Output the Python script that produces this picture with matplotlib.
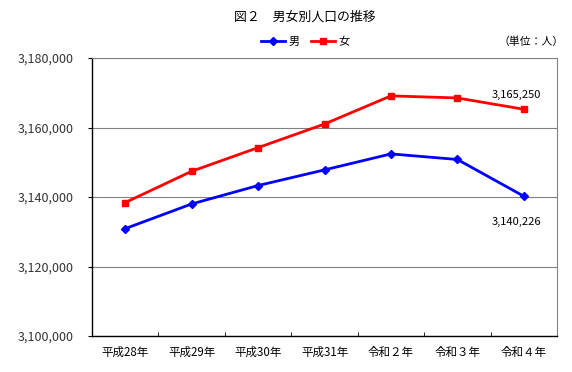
import matplotlib
matplotlib.use("Agg")
import matplotlib.pyplot as plt
from matplotlib.ticker import FuncFormatter, FixedLocator

plt.rcParams['font.family'] = ['Noto Sans CJK JP', 'DejaVu Sans']

categories = ["平成28年", "平成29年", "平成30年", "平成31年", "令和２年", "令和３年", "令和４年"]
male = [3130900, 3138000, 3143300, 3147800, 3152400, 3150800, 3140226]
female = [3138400, 3147400, 3154200, 3161000, 3169100, 3168500, 3165250]
yticks = [3100000, 3120000, 3140000, 3160000, 3180000]

fig = plt.figure(figsize=(5.72, 3.72), dpi=100)
ax = fig.add_axes([92/572, 1-336/372, (557-92)/572, (336-58)/372])

x = list(range(len(categories)))
ax.plot(x, male, color="#0000FF", lw=2, marker="D", ms=4.5, label="男", zorder=3)
ax.plot(x, female, color="#FF0000", lw=2, marker="s", ms=4.5, label="女", zorder=3)

ax.set_xlim(-0.5, len(categories)-0.5)
ax.set_ylim(3100000, 3180000)
ax.yaxis.set_major_locator(FixedLocator(yticks))
ax.yaxis.set_major_formatter(FuncFormatter(lambda v, p: f"{int(v):,}"))
ax.grid(axis="y", color="#808080", lw=0.8)
ax.set_axisbelow(True)

ax.set_xticks(x)
ax.set_xticklabels(categories, fontsize=8.3)
ax.tick_params(axis="x", length=0, pad=7)
ax.set_xticks([i-0.5 for i in range(1, len(categories))], minor=True)
ax.tick_params(axis="x", which="minor", direction="in", length=3, color="black")
ax.tick_params(axis="y", direction="out", length=3, labelsize=9, pad=10, colors="black")
for lab in ax.get_yticklabels():
    lab.set_color("#333333")

for s in ["left", "bottom"]:
    ax.spines[s].set_color("black")
    ax.spines[s].set_linewidth(1)
for s in ["top", "right"]:
    ax.spines[s].set_color("#808080")
    ax.spines[s].set_linewidth(0.8)

ax.annotate(f"{female[-1]:,}", (x[-1], female[-1]), xytext=(-5, 7), textcoords="offset points",
            ha="center", va="bottom", fontsize=8)
ax.annotate(f"{male[-1]:,}", (x[-1], male[-1]), xytext=(-5, -15), textcoords="offset points",
            ha="center", va="top", fontsize=8)

fig.text(305/572, 1-17/372, "図２　男女別人口の推移", ha="center", va="center", fontsize=9.3)
leg = fig.legend(loc="center", bbox_to_anchor=(305/572, 1-42/372), ncol=2, frameon=False,
                 fontsize=8, handlelength=2.2, columnspacing=1.0, handletextpad=0.3)
fig.text(531/572, 1-42/372, "（単位：人）", ha="center", va="center", fontsize=7.8)

fig.savefig("out.png", dpi=100)
